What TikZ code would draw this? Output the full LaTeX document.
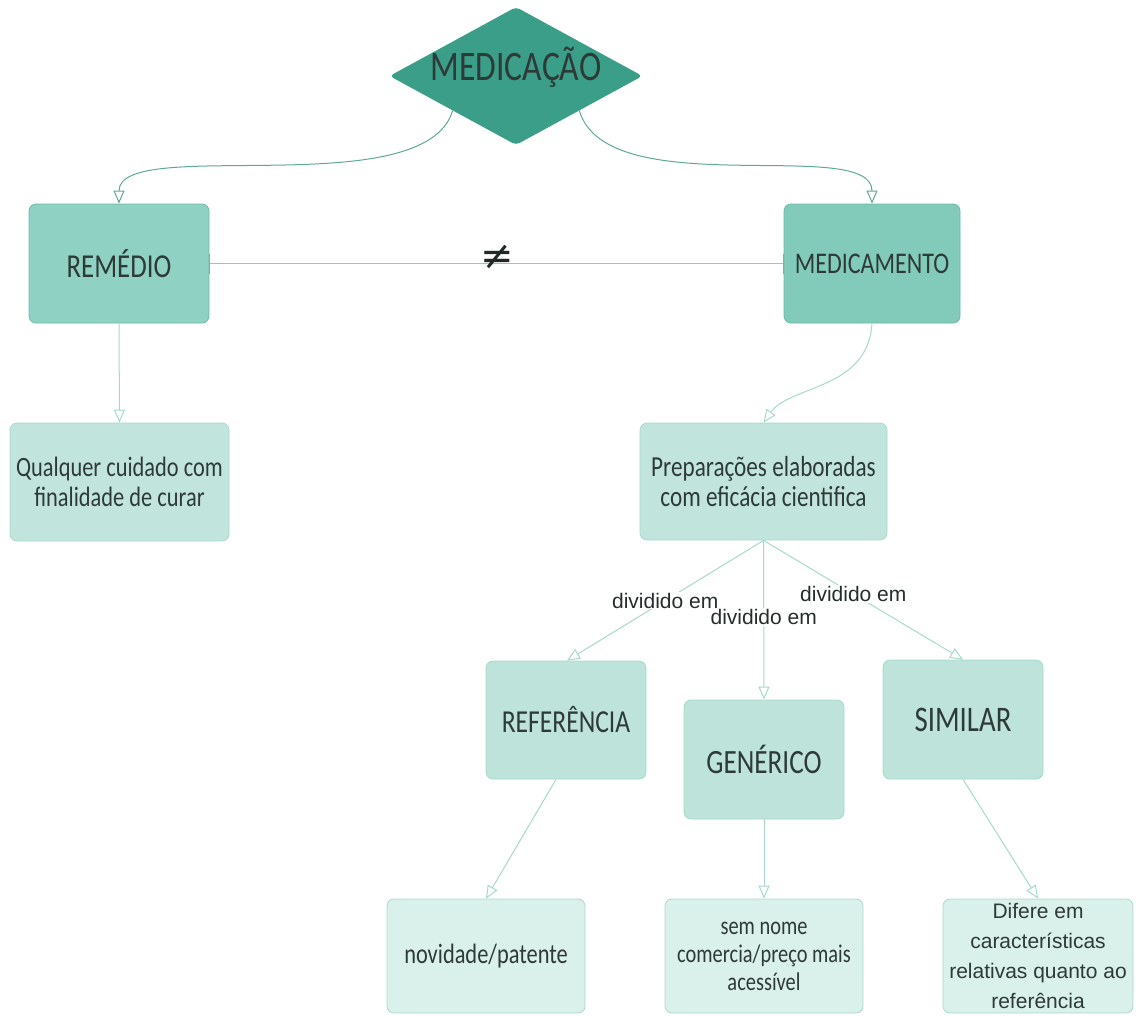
\documentclass[tikz,border=0pt]{standalone}
\usepackage{fontspec}
\usetikzlibrary{shapes.geometric,arrows.meta}
\newfontfamily\hand[FakeStretch=0.8]{Carlito}
\newfontfamily\arialf{Liberation Sans}
\newfontfamily\dejavuf{DejaVu Sans}
\definecolor{dia}{HTML}{3B9E89}
\definecolor{boxA}{HTML}{8FD1C2}
\definecolor{boxB}{HTML}{82CABA}
\definecolor{boxC}{HTML}{C1E5DC}
\definecolor{boxD}{HTML}{BDE3DA}
\definecolor{boxE}{HTML}{DAF0EA}
\definecolor{bordA}{HTML}{6CBBA9}
\definecolor{bordC}{HTML}{A9D9CD}
\definecolor{txt}{HTML}{2E3A37}
\definecolor{lineA}{HTML}{5FA898}
\definecolor{lineB}{HTML}{8FCABD}
\definecolor{lineC}{HTML}{A6D8CC}
\tikzset{
  cbox/.style={rectangle, rounded corners=7pt, align=center, text=txt, inner sep=2pt, line width=0.8pt},
  hfont/.style={font={\hand\fontsize{#1}{#1}\selectfont}},
  arr/.style={-{Triangle[open,length=13pt,width=11pt]}, line width=1pt},
  lbl/.style={fill=white, inner sep=1pt, text=txt!80!black, font={\arialf\fontsize{21}{24}\selectfont}}
}
\begin{document}
\begin{tikzpicture}[x=1pt,y=-1pt]
\useasboundingbox (0,0) rectangle (1139,1015);
% top diamond
\node[diamond, fill=dia, minimum width=253pt, minimum height=138pt, inner sep=0pt, rounded corners=4pt] (top) at (516,76) {};
\node[text=txt, hfont=42, inner sep=0pt] (toptxt) at (516,67) {MEDICAÇÃO};
% second level
\node[cbox, fill=boxA, draw=bordA, minimum width=180pt, minimum height=119pt, hfont=33.5] (rem) at (119,263.5) {REMÉDIO};
\node[cbox, fill=boxB, draw=bordA, minimum width=176pt, minimum height=119pt, hfont=30] (mdc) at (872,263.5) {MEDICAMENTO};
% third level
\node[cbox, fill=boxC, draw=bordC, minimum width=219pt, minimum height=118pt, font={\hand\fontsize{28}{30}\selectfont}] (qual) at (119.5,482) {Qualquer cuidado com\\finalidade de curar};
\node[cbox, fill=boxC, draw=bordC, minimum width=247pt, minimum height=117pt, font={\hand\fontsize{29}{30}\selectfont}] (prep) at (763.5,481.5) {Preparações elaboradas\\com eficácia cientifica};
% fourth level
\node[cbox, fill=boxD, draw=bordC, minimum width=160pt, minimum height=118pt, hfont=32] (ref) at (566,720) {REFERÊNCIA};
\node[cbox, fill=boxD, draw=bordC, minimum width=160pt, minimum height=119pt, hfont=34] (gen) at (764,759.5) {GENÉRICO};
\node[cbox, fill=boxD, draw=bordC, minimum width=160pt, minimum height=119pt, hfont=36] (sim) at (963,719.5) {SIMILAR};
% bottom level
\node[cbox, fill=boxE, draw=bordC, minimum width=198pt, minimum height=114pt, hfont=28] (nov) at (486,956) {novidade/patente};
\node[cbox, fill=boxE, draw=bordC, minimum width=198pt, minimum height=114pt, font={\hand\fontsize{25.5}{28}\selectfont}] (sem) at (764,956) {sem nome\\comercia/preço mais\\acessível};
\node[cbox, fill=boxE, draw=bordC, minimum width=190pt, minimum height=114pt, font={\arialf\fontsize{21}{30}\selectfont}] (dif) at (1038,956) {Difere em\\características\\relativas quanto ao\\referência};
% connectors
\draw[arr, draw=lineA] (top.south west) .. controls (425,205) and (119,135) .. (rem.north);
\draw[arr, draw=lineA] (top.south east) .. controls (607,205) and (872,135) .. (mdc.north);
\draw[draw=lineB, line width=1pt] (rem.east) -- (mdc.west);
\draw[draw=bordA, line width=1.5pt] ([yshift=-10pt]rem.east) -- ([yshift=10pt]rem.east);
\draw[draw=bordA, line width=1.5pt] ([yshift=-10pt]mdc.west) -- ([yshift=10pt]mdc.west);
\node[text=txt!70!black, inner sep=0pt, font={\dejavuf\fontsize{40}{40}\selectfont}] (neq) at (497,257) {≠};
\draw[arr, draw=lineC] (rem.south) -- (qual.north);
\draw[arr, draw=lineC] (mdc.south) .. controls (868,390) and (790,385) .. (prep.north);
\draw[arr, draw=lineC] (prep.south) -- node[lbl, pos=0.5] (l1) {dividido em} ([xshift=1pt]ref.north);
\draw[arr, draw=lineC] (prep.south) -- node[lbl, pos=0.48] (l2) {dividido em} (gen.north);
\draw[arr, draw=lineC] (prep.south) -- node[lbl, pos=0.45] (l3) {dividido em} (sim.north);
\draw[arr, draw=lineC] ([xshift=-10pt]ref.south) -- (nov.north);
\draw[arr, draw=lineC] (gen.south) -- (sem.north);
\draw[arr, draw=lineC] (sim.south) -- (dif.north);
\end{tikzpicture}
\end{document}
